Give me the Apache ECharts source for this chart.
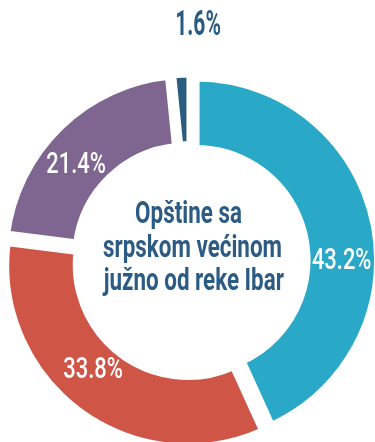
<!DOCTYPE html>
<html>
<head>
<meta charset="utf-8">
<script src="https://cdn.jsdelivr.net/npm/echarts@6/dist/echarts.min.js"></script>
<style>
  html, body { margin: 0; padding: 0; background: #ffffff; }
  #chart { width: 375px; height: 442px; }
</style>
</head>
<body>
<div id="chart"></div>
<script>
// Shares of the four groups (percent), clockwise from 12 o'clock
const sliceValues = [43.2, 33.8, 21.4, 1.6];
// Caption in the hole of the ring
const centerLines = ['Opštine sa', 'srpskom većinom', 'južno od reke Ibar'];

const sliceColors = ['#29a8c7', '#cf5547', '#7f6690', '#2a5b80'];
const labelColors = ['#ffffff', '#ffffff', '#ffffff', '#2a5b80'];
// Value label anchors: [angle clockwise from 12 o'clock (deg), distance from centre (px)]
const labelPolar = [[90, 151], [221.6, 147], [309.7, 149], [1.8, 234.5]];
// Caption line anchors: [x, y] of each line's centre
const captionAnchors = [[188.5, 214.6], [192.5, 248.5], [193.8, 282]];

const CX = 190.7, CY = 261;
const FONT = "Roboto, 'Noto Sans', sans-serif";
const TEXT_SCALE_X = 0.70;   // narrow the sans face to a condensed look

const chart = echarts.init(document.getElementById('chart'), null, { renderer: 'canvas' });

function textEl(text, x, y, opts) {
  return {
    type: 'text',
    x: x,
    y: y,
    scaleX: opts.scaleX,
    silent: true,
    z: 10,
    style: {
      text: text,
      fill: opts.color,
      fontFamily: FONT,
      fontSize: opts.size,
      fontWeight: opts.weight,
      align: 'center',
      verticalAlign: 'middle',
      textAlign: 'center',
      textVerticalAlign: 'middle'
    }
  };
}

const valueLabels = sliceValues.map((v, i) => {
  const [a, r] = labelPolar[i];
  const t = a * Math.PI / 180;
  const small = i === 3;
  return textEl(v.toFixed(1) + '%', CX + r * Math.sin(t), CY - r * Math.cos(t), {
    color: labelColors[i],
    size: small ? 35 : 30,
    weight: small ? 'bold' : 500,
    scaleX: small ? 0.6 : 0.73
  });
});

const caption = centerLines.map((line, i) =>
  textEl(line, captionAnchors[i][0], captionAnchors[i][1], {
    color: '#2c5b84', size: 32, weight: 'bold', scaleX: TEXT_SCALE_X
  })
);

chart.setOption({
  animation: false,
  series: [{
    type: 'pie',
    center: [CX, CY],
    radius: [111, 182.5],
    startAngle: 90,
    clockwise: true,
    selectedMode: 'multiple',
    selectedOffset: 5,
    emphasis: { scale: false },
    itemStyle: { borderColor: '#ffffff', borderWidth: 8 },
    label: { show: false },
    labelLine: { show: false },
    data: sliceValues.map((v, i) => ({
      value: v,
      selected: true,
      itemStyle: { color: sliceColors[i] }
    }))
  }],
  graphic: { elements: valueLabels.concat(caption) }
});
</script>
</body>
</html>
